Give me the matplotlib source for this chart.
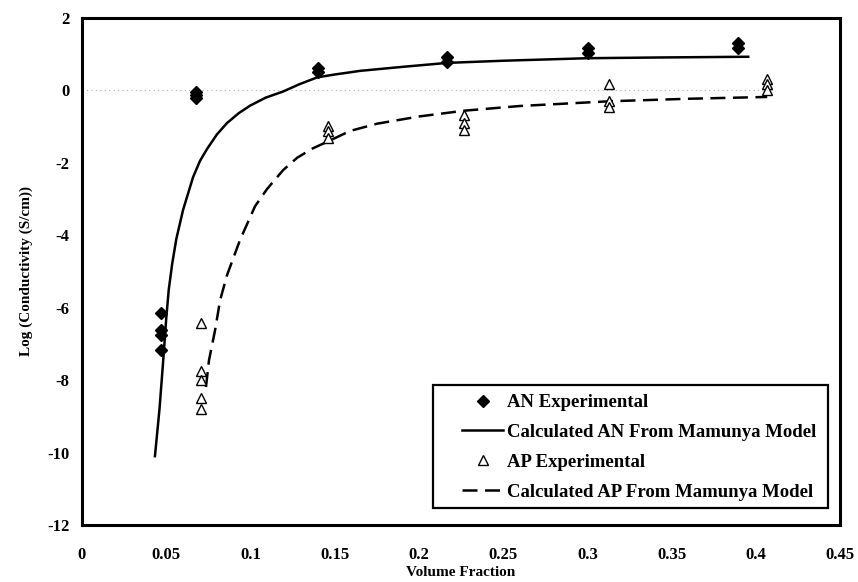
import matplotlib
matplotlib.use("Agg")
import matplotlib.pyplot as plt
from matplotlib.lines import Line2D
from matplotlib.patches import Rectangle

plt.rcParams['font.family'] = ['Liberation Serif', 'DejaVu Serif']
plt.rcParams['font.weight'] = 'bold'
plt.rcParams['axes.unicode_minus'] = False

# ---- data ----
an_exp_x = [0.0469, 0.0469, 0.0469, 0.0469, 0.0677, 0.0677, 0.0677,
            0.140, 0.140, 0.2167, 0.2167, 0.3005, 0.3005, 0.3895, 0.3895]
an_exp_y = [-6.15, -6.62, -6.76, -7.17, -0.05, -0.12, -0.22,
            0.61, 0.50, 0.92, 0.78, 1.17, 1.03, 1.31, 1.17]

ap_exp_x = [0.0707, 0.0707, 0.0707, 0.0707, 0.0707,
            0.146, 0.146, 0.146,
            0.2268, 0.2268, 0.2268,
            0.313, 0.313, 0.313,
            0.4068, 0.4068, 0.4068]
ap_exp_y = [-6.43, -7.75, -8.0, -8.5, -8.8,
            -0.98, -1.12, -1.31,
            -0.68, -0.9, -1.09,
            0.18, -0.29, -0.46,
            0.31, 0.18, 0.01]

an_calc_x = [0.0433, 0.0460, 0.0481, 0.0500, 0.0515, 0.0535, 0.0560, 0.0600,
             0.0659, 0.0700, 0.0742, 0.0800, 0.0861, 0.0930, 0.0998, 0.1090,
             0.1194, 0.1290, 0.1396, 0.1500, 0.1591, 0.1650, 0.1900, 0.2167,
             0.2500, 0.3005, 0.3430, 0.3955]
an_calc_y = [-10.1, -8.8, -7.53, -6.3, -5.5, -4.8, -4.1, -3.3,
             -2.4, -1.95, -1.62, -1.22, -0.9, -0.63, -0.42, -0.2,
             -0.03, 0.17, 0.36, 0.44, 0.50, 0.54, 0.65, 0.76,
             0.82, 0.89, 0.91, 0.93]

ap_calc_x = [0.0736, 0.0754, 0.0790, 0.0820, 0.0861, 0.0938, 0.1027, 0.1099,
             0.1194, 0.1277, 0.1370, 0.1455, 0.1591, 0.1750, 0.2000, 0.2268,
             0.2600, 0.3130, 0.3600, 0.4068]
ap_calc_y = [-8.19, -7.45, -6.62, -5.79, -5.1, -4.13, -3.2, -2.72,
             -2.2, -1.86, -1.6, -1.42, -1.12, -0.92, -0.72, -0.56,
             -0.43, -0.3, -0.23, -0.18]

x_ticks = [0, 0.05, 0.1, 0.15, 0.2, 0.25, 0.3, 0.35, 0.4, 0.45]
x_tick_labels = ['0', '0.05', '0.1', '0.15', '0.2', '0.25', '0.3', '0.35', '0.4', '0.45']
y_ticks = [-12, -10, -8, -6, -4, -2, 0, 2]

labels = ['AN Experimental', 'Calculated AN From Mamunya Model',
          'AP Experimental', 'Calculated AP From Mamunya Model']

# ---- figure ----
fig = plt.figure(figsize=(8.58, 5.82), dpi=100)
W, H = 858, 582
ax_l, ax_r, ax_t, ax_b = 82, 840, 18, 525
ax = fig.add_axes([ax_l / W, 1 - ax_b / H, (ax_r - ax_l) / W, (ax_b - ax_t) / H])

ax.hlines(0, 0, 0.41, colors='#b0b0b0', linestyles=(0, (1, 3)), linewidth=0.8, zorder=1)

ax.plot(an_calc_x, an_calc_y, color='black', lw=1.8, zorder=3,
        solid_joinstyle='round')
ax.plot(ap_calc_x, ap_calc_y, color='black', lw=1.8, linestyle=(0, (6, 3)), zorder=3,
        dash_joinstyle='round')
ax.plot(an_exp_x, an_exp_y, linestyle='none', marker='D', markersize=6,
        color='black', zorder=4)
ax.plot(ap_exp_x, ap_exp_y, linestyle='none', marker='^', markersize=7,
        markerfacecolor='white', markeredgecolor='black', markeredgewidth=1.0, zorder=4)

ax.set_xlim(0, 0.45)
ax.set_ylim(-12, 2)
ax.set_xticks(x_ticks)
ax.set_xticklabels(x_tick_labels)
ax.set_yticks(y_ticks)
ax.tick_params(axis='both', length=0, labelsize=12)
ax.tick_params(axis='x', pad=16)
ax.tick_params(axis='y', pad=9)
for lab in ax.get_xticklabels() + ax.get_yticklabels():
    lab.set_fontweight('bold')
for s in ax.spines.values():
    s.set_linewidth(2.2)
    s.set_color('black')

ax.set_xlabel('Volume Fraction', fontsize=11, fontweight='bold', labelpad=2)
ax.set_ylabel('Log (Conductivity (S/cm))', fontsize=11, fontweight='bold', labelpad=10)

# legend box
def to_ax(px, py):
    return ((px - ax_l) / (ax_r - ax_l), (ax_b - py) / (ax_b - ax_t))

bx0, by0 = to_ax(433, 508)
bx1, by1 = to_ax(828, 385)
ax.add_patch(Rectangle((bx0, by0), bx1 - bx0, by1 - by0, transform=ax.transAxes,
                       facecolor='white', edgecolor='black', linewidth=1.6, zorder=5))

handles = [
    Line2D([], [], linestyle='none', marker='D', markersize=6, color='black'),
    Line2D([], [], color='black', lw=1.8),
    Line2D([], [], linestyle='none', marker='^', markersize=7, markerfacecolor='white',
           markeredgecolor='black', markeredgewidth=1.0),
    Line2D([], [], color='black', lw=1.8, linestyle=(0, (6, 3))),
]
lx, ly = to_ax(462, 394)
leg = ax.legend(handles, labels, loc='upper left', bbox_to_anchor=(lx, ly),
                frameon=False, borderpad=0, borderaxespad=0, handlelength=2.2,
                handletextpad=0.2, labelspacing=0.68,
                prop={'family': 'Liberation Serif', 'weight': 'bold', 'size': 13.5})
leg.set_zorder(6)

fig.savefig('out.png', dpi=100)
